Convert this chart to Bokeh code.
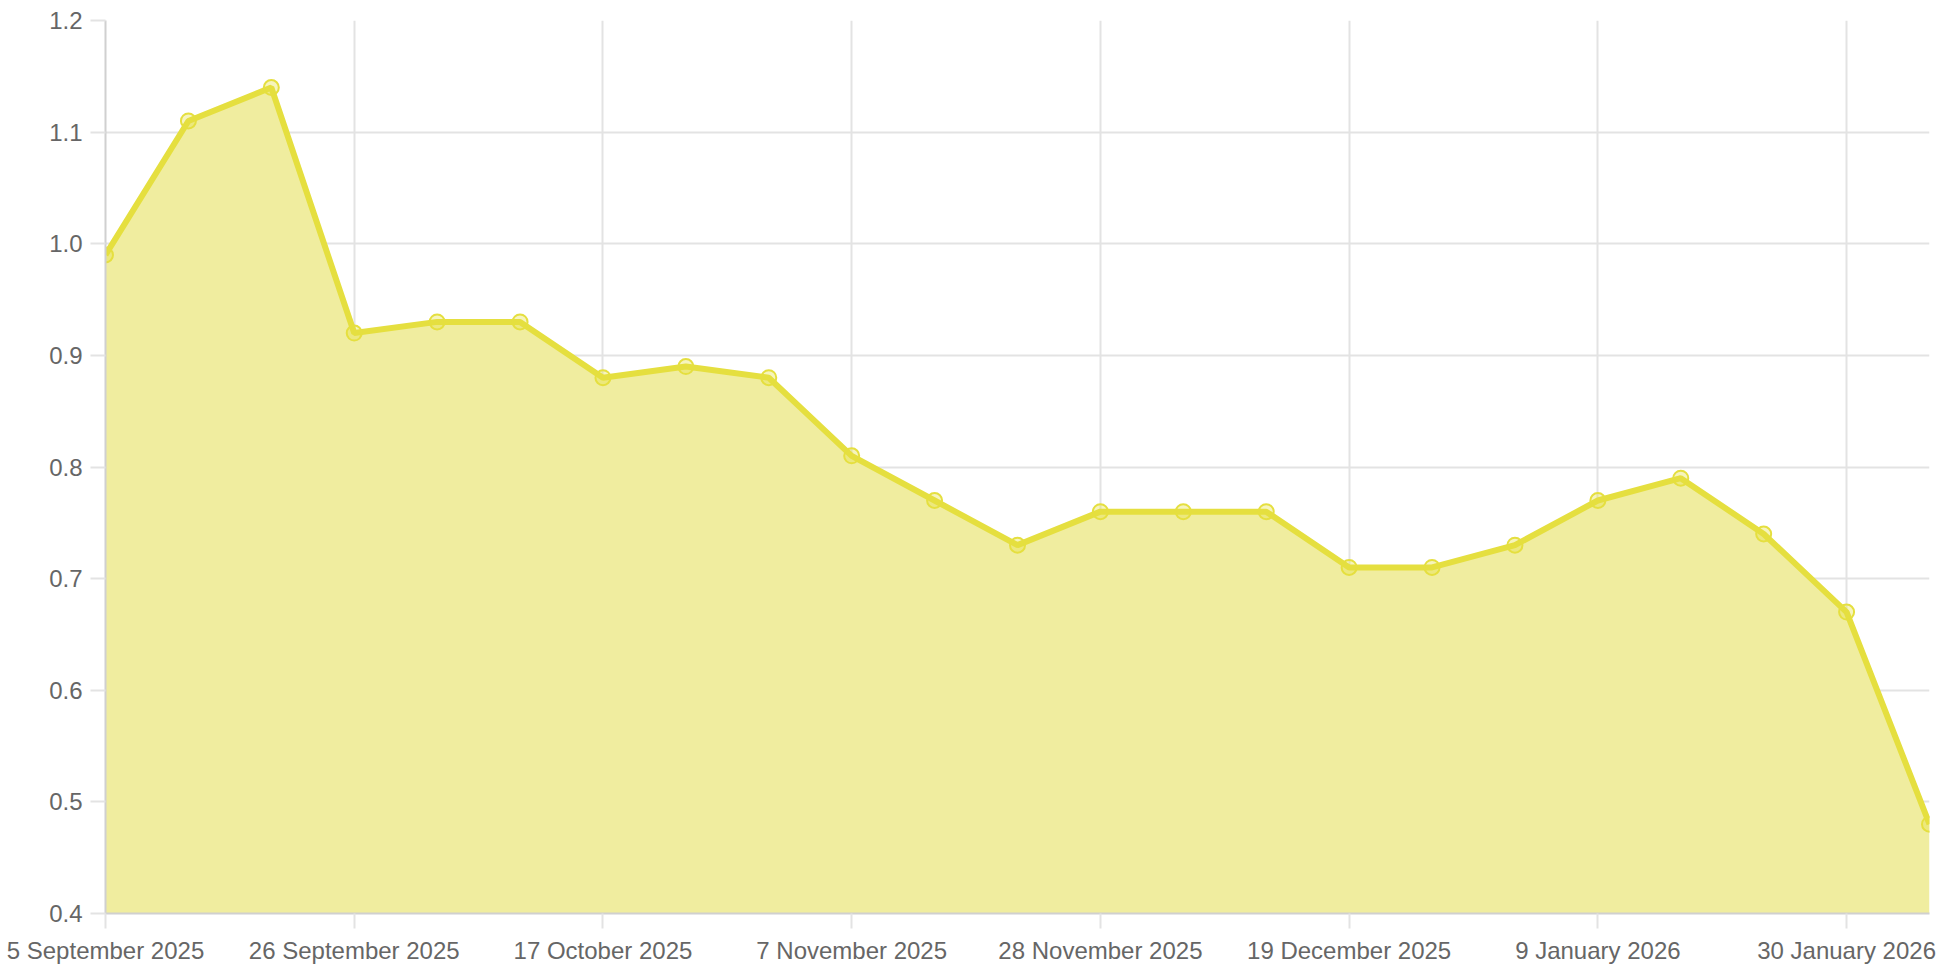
import pandas as pd
from bokeh.plotting import figure
from bokeh.models import FixedTicker, Range1d, NumeralTickFormatter
from bokeh.embed import file_html
from bokeh.resources import INLINE

# ---- data ----
dates = ["2025-09-05", "2025-09-12", "2025-09-19", "2025-09-26", "2025-10-03",
         "2025-10-10", "2025-10-17", "2025-10-24", "2025-10-31", "2025-11-07",
         "2025-11-14", "2025-11-21", "2025-11-28", "2025-12-05", "2025-12-12",
         "2025-12-19", "2025-12-26", "2026-01-02", "2026-01-09", "2026-01-16",
         "2026-01-23", "2026-01-30", "2026-02-06"]
values = [0.99, 1.11, 1.14, 0.92, 0.93, 0.93, 0.88, 0.89, 0.88, 0.81,
          0.77, 0.73, 0.76, 0.76, 0.76, 0.71, 0.71, 0.73, 0.77, 0.79,
          0.74, 0.67, 0.48]
tick_dates = ["2025-09-05", "2025-09-26", "2025-10-17", "2025-11-07",
              "2025-11-28", "2025-12-19", "2026-01-09", "2026-01-30"]
tick_labels = ["5 September 2025", "26 September 2025", "17 October 2025",
               "7 November 2025", "28 November 2025", "19 December 2025",
               "9 January 2026", "30 January 2026"]
y_min, y_max = 0.4, 1.2
y_ticks = [0.4, 0.5, 0.6, 0.7, 0.8, 0.9, 1.0, 1.1, 1.2]

LINE = "#e5df3f"
FILL = "#f0ed9f"
GRID = "#e3e3e3"
TEXT = "#666666"
FONT = "Liberation Sans"

W, H = 1940, 970

x = pd.to_datetime(pd.Series(dates))
xms = [float(t.value // 10**6) for t in x]
tick_ms = [float(pd.Timestamp(d).value // 10**6) for d in tick_dates]

p = figure(width=W, height=H, output_backend="svg", toolbar_location=None,
           x_axis_type="datetime",
           x_range=Range1d(xms[0], xms[-1]), y_range=Range1d(y_min, y_max),
           min_border_left=105, min_border_right=W - 1929, min_border_top=20,
           min_border_bottom=H - 913)
p.outline_line_color = None
p.background_fill_color = "white"
p.border_fill_color = "white"

p.varea(x=xms, y1=[y_min] * len(xms), y2=values, fill_color=FILL, fill_alpha=1.0)
p.line(x=xms, y=values, line_color=LINE, line_width=6)
p.scatter(x=xms, y=values, size=15, marker="circle", fill_color=LINE,
          fill_alpha=0.35, line_color=LINE, line_width=2)

# x axis
xa = p.xaxis[0]
xa.ticker = FixedTicker(ticks=tick_ms)
xa.major_label_overrides = {t: lab for t, lab in zip(tick_ms, tick_labels)}
xa.minor_tick_line_color = None
xa.major_tick_in = 0
xa.major_tick_out = 15
xa.major_tick_line_color = GRID
xa.major_tick_line_width = 2
xa.axis_line_color = "#d0d0d0"
xa.axis_line_width = 2
xa.major_label_text_font = FONT
xa.major_label_text_font_size = "24px"
xa.major_label_text_color = TEXT
xa.major_label_standoff = 8

# y axis
ya = p.yaxis[0]
ya.ticker = FixedTicker(ticks=y_ticks)
ya.formatter = NumeralTickFormatter(format="0.0")
ya.minor_tick_line_color = None
ya.major_tick_in = 0
ya.major_tick_out = 15
ya.major_tick_line_color = GRID
ya.major_tick_line_width = 2
ya.axis_line_color = "#d0d0d0"
ya.axis_line_width = 2
ya.major_label_text_font = FONT
ya.major_label_text_font_size = "24px"
ya.major_label_text_color = TEXT
ya.major_label_text_align = "right"
ya.major_label_standoff = 8

p.xgrid.ticker = FixedTicker(ticks=tick_ms)
p.ygrid.ticker = FixedTicker(ticks=y_ticks)
p.xgrid.grid_line_color = GRID
p.ygrid.grid_line_color = GRID
p.xgrid.grid_line_width = 2
p.ygrid.grid_line_width = 2

open("out.html", "w").write(file_html(p, INLINE))
